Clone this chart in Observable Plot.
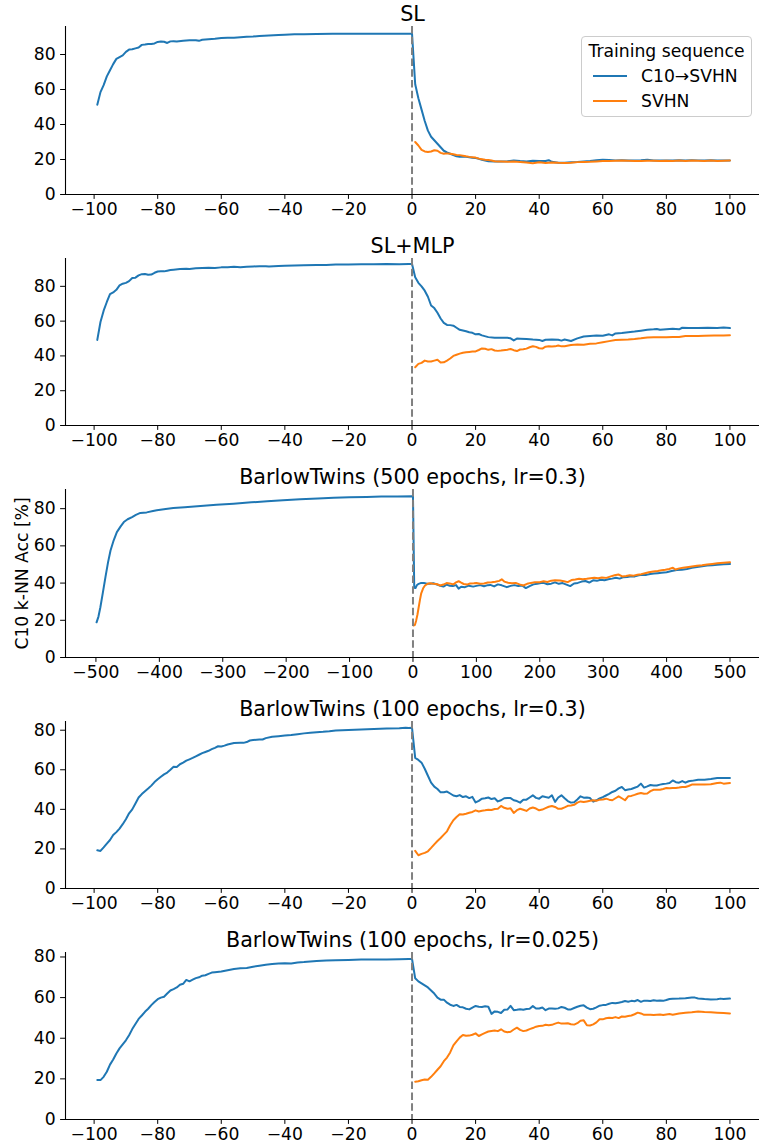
<!DOCTYPE html>
<html><head><meta charset="utf-8">
<script src="https://cdn.jsdelivr.net/npm/d3@7"></script>
<script src="https://cdn.jsdelivr.net/npm/@observablehq/plot@0.6"></script>
<style>
body{margin:0;background:#fff}
#chart{width:759px;position:relative}
#chart svg{display:block}
.panel{position:relative}
</style>
</head><body><div id="chart"></div>
<script>
// ---------- DATA ----------
const titles = ["SL", "SL+MLP", "BarlowTwins (500 epochs, lr=0.3)", "BarlowTwins (100 epochs, lr=0.3)", "BarlowTwins (100 epochs, lr=0.025)"];
const seriesNames = ["C10→SVHN", "SVHN"];
const yLabel = "C10 k-NN Acc [%]";
const legendTitle = "Training sequence";
const xTicks100 = [-100,-80,-60,-40,-20,0,20,40,60,80,100];
const xTicks500 = [-500,-400,-300,-200,-100,0,100,200,300,400,500];
const yTicks = [0,20,40,60,80];

// SL
const slC10 = [[-99,51.3],[-98,58.5],[-97,62.5],[-96,67.5],[-95,71],[-94,74.5],[-93,77.5],[-92,78.5],[-91,79.5],[-90,81.5],[-89,82.8],[-88,83],[-87,83.5],[-86,84],[-85,85.5],[-84,85.7],[-83,86],[-82,86],[-81,86.3],[-80,87.2],[-79,87.4],[-78,87.3],[-77,86.6],[-76,87.5],[-75,87.6],[-74,87.4],[-72,87.8],[-70,88.1],[-68,88.2],[-67,87.8],[-66,88.4],[-64,88.7],[-62,89],[-60,89.4],[-58,89.6],[-56,89.6],[-54,89.9],[-52,90.2],[-50,90.3],[-48,90.6],[-45,90.8],[-42,91.1],[-40,91.3],[-37,91.6],[-34,91.6],[-30,91.7],[-25,91.8],[-20,91.9],[-15,91.8],[-10,91.9],[-5,91.9],[-1,91.9],[0,91.9],
[1,63],[2,55],[3,48.5],[4,42],[5,36.5],[6,33],[7,31],[8,29],[9,27],[10,25],[11,24],[12,23.3],[13,22.5],[14,21.8],[15,21.5],[16,21.6],[17,21.5],[18,21.3],[19,21],[20,20.8],[21,20.4],[22,19.8],[23,19.4],[24,19],[26,18.9],[28,18.9],[30,19],[32,19.4],[34,19.1],[36,18.9],[38,19.3],[40,19.2],[42,19.1],[43,19.6],[44,18.7],[46,18.2],[48,18.1],[50,18.4],[52,18.6],[54,18.9],[56,19.2],[58,19.6],[60,19.8],[62,19.7],[64,19.5],[66,19.6],[68,19.4],[70,19.5],[72,19.6],[74,19.8],[76,19.4],[78,19.5],[80,19.5],[82,19.4],[84,19.6],[86,19.4],[88,19.6],[90,19.5],[92,19.4],[94,19.6],[96,19.4],[98,19.5],[100,19.4]];
const slSVHN = [[1,30],[2,28],[3,25.5],[4,24.6],[5,24.3],[6,24.6],[7,25.3],[8,25],[9,23.8],[10,23.3],[11,23.5],[12,23.3],[13,23],[14,22.6],[15,22.5],[16,22.2],[17,21.8],[18,21.5],[19,21.3],[20,21.1],[21,20.5],[22,20.2],[23,19.9],[24,19.7],[25,19.4],[26,19],[27,18.9],[28,18.9],[30,18.7],[32,18.8],[34,18.6],[36,18.3],[38,17.9],[40,18.4],[42,18],[44,18.3],[46,18.1],[48,18],[50,18.2],[52,18.5],[54,18.6],[56,18.7],[58,18.9],[60,19.1],[62,19.2],[64,19.3],[66,19.4],[68,19.3],[70,19.2],[72,19.1],[74,19.3],[76,19.3],[78,19.2],[80,19.3],[82,19.2],[84,19.4],[86,19.2],[88,19.4],[90,19.3],[92,19.2],[94,19.4],[96,19.2],[98,19.3],[100,19.4]];

// SL+MLP
const mlpC10 = [[-99,49.2],[-98,59.5],[-97,66],[-96,71],[-95,75.5],[-94,76.5],[-93,78],[-92,80.5],[-91,81.5],[-90,82],[-89,83],[-88,84.8],[-87,85],[-86,86.3],[-85,87],[-84,87.1],[-83,86.7],[-82,86.8],[-81,87.8],[-80,88.5],[-79,88.6],[-78,88.6],[-77,89],[-76,89.4],[-75,89.6],[-73,89.9],[-71,90.1],[-70,90],[-68,90.4],[-66,90.6],[-64,90.7],[-62,90.6],[-60,90.9],[-58,91],[-56,91.2],[-54,91],[-52,91.2],[-50,91.4],[-48,91.6],[-46,91.6],[-45,91.4],[-42,91.7],[-40,91.8],[-37,92],[-34,92.1],[-30,92.3],[-27,92.3],[-24,92.5],[-20,92.6],[-16,92.7],[-12,92.7],[-8,92.9],[-4,92.7],[-1,92.8],[0,92.8],
[1,85.2],[2,82],[3,80],[4,77.5],[5,74],[6,69],[7,67.5],[8,64.8],[9,61.5],[10,59],[11,57.8],[12,57.7],[13,57.4],[14,56.2],[15,55],[16,54.6],[17,54.2],[18,53.6],[19,53.3],[20,52.4],[21,52.6],[22,51.8],[24,50.8],[26,50.4],[28,50.4],[30,50.4],[31,50.1],[32,48.9],[33,50],[34,49.9],[36,49.7],[38,49.4],[40,49.2],[41,48.6],[42,49.3],[44,49.4],[46,49.3],[47,48.8],[48,49.4],[50,48.6],[52,50.1],[54,51.2],[56,51.5],[58,51.7],[60,51.6],[62,52.4],[63,51.8],[64,52.9],[66,53.2],[68,53.6],[70,54],[72,54.5],[74,55],[76,55.3],[77,55.5],[78,55],[80,55.3],[82,55.6],[84,55.3],[85,56.2],[87,56.1],[90,56.1],[93,56.2],[96,56.1],[98,56.4],[100,56]];
const mlpSVHN = [[1,33.5],[2,35.4],[3,36],[4,37.3],[5,36.8],[6,36.8],[7,37.3],[8,37.8],[9,36.2],[10,36.3],[11,37.3],[12,38.5],[13,40],[14,40.7],[15,41.3],[16,41.8],[17,42.1],[18,42.3],[19,42.5],[20,42.6],[21,43.4],[22,44.3],[23,44.1],[24,43.5],[25,43.9],[26,43.1],[27,42.9],[28,43.1],[30,43.6],[31,44],[32,43.3],[33,42.8],[34,43.7],[35,43.8],[36,44.2],[37,45],[38,45.6],[39,45.2],[40,44.4],[41,44.2],[42,45.3],[43,45.5],[44,45.4],[45,45.5],[46,46],[47,45.5],[48,45.6],[50,46.3],[52,46.6],[54,46.4],[56,47],[58,47.2],[60,47.9],[62,48.5],[64,49.1],[66,49.3],[68,49.4],[70,49.7],[72,50.1],[74,50.6],[76,50.7],[78,50.7],[80,50.7],[82,50.9],[84,50.9],[86,51.4],[88,51.5],[90,51.5],[92,51.6],[95,51.7],[98,51.8],[100,51.9]];

// BarlowTwins 500 epochs lr 0.3
const bt500C10 = [[-499,18.9],[-496,22],[-493,27],[-489,35],[-485,43.2],[-481,51],[-477,57.5],[-472,63],[-467,67.4],[-461,70.5],[-456,72.8],[-450,74.3],[-443,75.5],[-437,76.7],[-430,77.7],[-420,78],[-410,78.7],[-404,79.1],[-390,79.8],[-378,80.3],[-360,80.8],[-335,81.4],[-310,82.1],[-283,82.7],[-255,83.4],[-230,84],[-205,84.5],[-178,85],[-150,85.4],[-125,85.8],[-100,86.1],[-73,86.3],[-50,86.5],[-25,86.6],[0,86.7],
[2,37.5],[4,37.3],[6,38.8],[9,39.6],[13,40.1],[17,40.1],[22,39.6],[27,39.6],[32,39.9],[38,39.2],[43,38.6],[48,38.1],[53,39.2],[58,38.6],[63,38.4],[68,38.9],[72,37],[76,38],[82,37.8],[88,38.6],[95,38.1],[100,38.5],[106,38.9],[112,38.3],[118,38.9],[122,39],[128,38.2],[134,39.3],[140,38.8],[148,37.8],[154,38.5],[160,38.9],[166,38.4],[172,38.7],[178,37.3],[184,38.4],[190,39.3],[196,39.6],[202,40],[206,40.1],[212,39.4],[218,39.7],[224,40.4],[230,39.6],[236,40],[242,39.2],[248,38.4],[254,39.8],[260,40.1],[266,40.8],[272,41.1],[278,40.3],[284,41.5],[290,41.2],[296,41.8],[302,41.5],[308,42.1],[314,42.4],[320,42.9],[326,42.4],[332,43.2],[338,43.3],[344,43.7],[350,43.6],[356,44.2],[362,44.5],[368,44.4],[374,44.9],[380,45.1],[386,45.3],[392,45.5],[400,45.8],[408,46.5],[416,47],[424,47.2],[432,47.6],[440,48.2],[448,48.6],[456,49],[464,49.4],[472,49.6],[480,49.9],[490,50.1],[500,50.3]];
const bt500SVHN = [[1,17.2],[3,17.5],[5,19.8],[7,23],[9,27],[11,31],[13,34.5],[16,37.2],[19,38.7],[23,39.6],[27,39.9],[32,39.6],[37,39.5],[43,38.7],[48,39.2],[53,40],[58,39.8],[64,39.3],[68,40.4],[72,41],[76,40.2],[80,39.5],[85,39.2],[90,39.8],[96,39.9],[100,40],[106,39.6],[112,39.8],[118,40.3],[124,40.4],[130,40.7],[136,41.2],[140,42],[144,40.8],[150,40.2],[156,39.9],[162,40.1],[168,39.3],[174,38.7],[180,39.6],[186,40.1],[192,40.4],[200,40.5],[206,41],[212,40.6],[218,41.3],[224,41.5],[232,41.4],[238,41],[244,40.5],[250,41.6],[256,41.9],[262,42.3],[268,42.1],[274,42.3],[280,42.6],[286,42.9],[292,42.6],[298,43],[305,42.8],[312,43.6],[318,44.2],[324,44.6],[330,43.6],[336,43.8],[342,44.2],[348,44],[354,44.5],[360,44.8],[366,45.3],[372,45.8],[379,46.2],[386,46.5],[392,46.9],[398,47.2],[404,47.6],[410,48.2],[414,47.3],[420,47.9],[426,48.2],[432,48.5],[440,48.9],[448,49.3],[456,49.6],[464,50],[472,50.3],[480,50.6],[490,50.9],[500,51.2]];

// BarlowTwins 100 epochs lr 0.3
const bt03C10 = [[-99,19.3],[-98,19],[-97,20.8],[-96,22.7],[-95,24.5],[-94,27],[-93,28.5],[-92,30.3],[-91,32.5],[-90,35],[-89,38],[-88,40],[-87,43],[-86,46],[-85,47.7],[-84,49.1],[-83,50.5],[-82,52],[-81,53.8],[-80,55.2],[-79,56.5],[-78,57.7],[-77,58.6],[-76,60],[-75,61.5],[-74,61.4],[-73,62.8],[-72,63.6],[-71,64.6],[-70,65.3],[-69,66],[-68,66.8],[-67,67.6],[-66,68.4],[-65,69],[-64,69.6],[-63,70.4],[-62,71.1],[-61,71.9],[-60,71.8],[-59,72.2],[-58,72.8],[-57,73.2],[-56,73.5],[-54,73.6],[-53,73.6],[-52,74],[-51,74.8],[-50,75],[-48,75.3],[-47,75.3],[-46,76],[-44,76.7],[-42,77],[-40,77.3],[-38,77.6],[-36,78],[-34,78.4],[-32,78.7],[-30,79],[-28,79.2],[-26,79.5],[-24,79.9],[-20,80.1],[-16,80.4],[-12,80.6],[-8,80.8],[-4,81],[-2,81.3],[-1,81.1],[0,81.2],
[1,66],[2,65],[3,63.6],[4,60.5],[5,57],[6,53.5],[7,51.5],[8,50.3],[9,48.6],[10,48.6],[11,49],[12,48],[13,47],[14,46.6],[15,47.2],[16,46.2],[17,46.6],[18,45.7],[19,46.3],[20,43.5],[21,44.3],[22,45.4],[23,45.6],[24,46],[25,45.2],[26,45.6],[27,44],[28,44.6],[29,45.6],[30,45.7],[31,45.7],[32,44.6],[33,44.2],[34,43.4],[35,44.8],[36,44.9],[37,46],[38,47.1],[39,45.8],[40,45.4],[41,46.6],[42,46.2],[43,45.9],[44,47.1],[45,43.8],[46,46],[47,47.1],[48,45.6],[49,44.2],[50,43.4],[51,43.6],[52,45],[53,46.6],[54,45.9],[55,46],[56,45.7],[57,43.9],[58,44.6],[59,45.5],[60,46.2],[61,47],[62,47.8],[63,48.8],[64,49.4],[65,50.6],[66,51.3],[67,49.7],[68,50],[69,50.3],[70,50.9],[71,51.5],[72,53],[73,51],[74,51.6],[75,52.3],[76,52.1],[77,52.1],[78,52.5],[79,52.8],[80,53],[81,53.3],[82,54.6],[83,53.7],[84,53.5],[85,54.3],[86,53.5],[87,54.2],[88,54.4],[90,55],[92,55],[94,55.3],[96,55.8],[98,55.8],[100,55.8]];
const bt03SVHN = [[1,19],[2,16.8],[3,17.5],[4,18],[5,18.8],[6,20.5],[7,22.3],[8,24],[9,25.5],[10,27.2],[11,28.9],[12,32],[13,34.5],[14,36.1],[15,37.5],[16,37.4],[17,37.8],[18,38.3],[19,38.7],[20,39.5],[21,38.9],[22,39.3],[23,39.5],[24,39.8],[25,39.7],[26,40.2],[27,40.3],[28,41.7],[29,40.8],[30,40.3],[31,40.5],[32,38.2],[33,39.6],[34,40.3],[35,39.8],[36,39.2],[37,40.4],[38,40.9],[39,40.4],[40,39.5],[41,39.9],[42,40.6],[43,41.3],[44,41.7],[45,41.2],[46,40.3],[47,40.3],[48,41],[49,41.8],[50,42],[51,42.3],[52,43.4],[53,44],[54,43.7],[55,44],[56,44.3],[57,44.6],[58,44.3],[59,44.9],[60,45],[61,45.4],[62,44.9],[63,44.6],[64,45.6],[65,46.6],[66,45.6],[67,44.6],[68,46.6],[69,46.8],[70,47.3],[71,47.9],[72,48.3],[73,47.9],[74,48],[75,49.2],[76,49.9],[77,49.9],[78,49.9],[79,50.3],[80,50.8],[81,50.7],[82,50.8],[83,50.8],[84,51],[85,51.3],[86,51.3],[87,51.8],[88,52.5],[90,52.5],[92,52.5],[94,52.7],[96,53.3],[97,53.5],[98,53],[100,53.3]];

// BarlowTwins 100 epochs lr 0.025
const bt025C10 = [[-99,19.4],[-98,19.4],[-97,21],[-96,23.5],[-95,27],[-94,29.5],[-93,32.5],[-92,35],[-91,37],[-90,39],[-89,41.5],[-88,44.5],[-87,47],[-86,49.5],[-85,51.2],[-84,53],[-83,54.5],[-82,56.3],[-81,57.8],[-80,59.2],[-79,60],[-78,60.4],[-77,62],[-76,63.5],[-75,64.2],[-74,65],[-73,66.3],[-72,66.8],[-71,68.7],[-70,68],[-69,68.8],[-68,69.6],[-67,70],[-66,70.8],[-65,71],[-64,71.7],[-63,72.3],[-62,72.5],[-60,72.8],[-58,73.5],[-56,74.1],[-54,74.4],[-52,74.6],[-50,75.2],[-48,75.7],[-46,76.2],[-44,76.5],[-42,76.8],[-40,76.9],[-38,76.8],[-36,77.3],[-34,77.5],[-32,77.8],[-30,78],[-27,78.3],[-24,78.4],[-20,78.5],[-16,78.7],[-12,78.8],[-8,78.7],[-4,78.9],[-1,79],[0,79],
[1,69.5],[2,68],[3,67],[4,66],[5,65],[6,63.5],[7,62],[8,60],[9,59],[10,59],[11,57.5],[12,56.5],[13,55.9],[14,56.4],[15,55.4],[16,55.2],[17,54.5],[18,54.2],[19,55.1],[20,55.9],[21,55.5],[22,55.4],[23,55.7],[24,55.5],[25,52],[26,53.2],[27,53],[28,52.4],[29,54],[30,54.1],[31,55.9],[32,53.8],[33,54],[34,54.3],[35,54],[36,54.4],[37,54.5],[38,55.8],[39,54.6],[40,54.6],[41,55.1],[42,53.8],[43,54.6],[44,54.6],[45,54.5],[46,54.7],[47,55.4],[48,55],[49,54.2],[50,54.2],[51,54.9],[52,55.5],[53,56],[54,56.2],[55,55.1],[56,54.3],[57,54.5],[58,55.2],[59,56],[60,56.3],[61,56.4],[62,57],[63,57.4],[64,57.2],[65,57.5],[66,57.8],[67,58.3],[68,58],[69,58.4],[70,58.2],[71,58.8],[72,57.9],[73,58.5],[74,58.5],[75,58.3],[76,58.7],[77,58.4],[78,58.6],[79,58.4],[80,58.8],[81,59.3],[82,59.4],[84,59.5],[86,59.7],[88,60],[89,60],[90,59.6],[92,59.3],[94,59.1],[96,59.2],[97,59.5],[98,59.3],[100,59.5]];
const bt025SVHN = [[1,18.6],[2,18.8],[3,19.3],[4,19.7],[5,19.6],[6,21],[7,22.7],[8,24.5],[9,26.2],[10,28.7],[11,30.5],[12,33],[13,36.5],[14,38.5],[15,40.3],[16,41.6],[17,41.2],[18,41.3],[19,41.7],[20,42.4],[21,41.1],[22,41.9],[23,42.6],[24,43.3],[25,43.6],[26,43.8],[27,43.5],[28,44.4],[29,43.3],[30,42.9],[31,43.2],[32,44.3],[33,45.2],[34,44.1],[35,43.5],[36,43.8],[37,44.5],[38,45],[39,45.7],[40,46],[41,46.1],[42,46.6],[43,46.4],[44,46.6],[45,47.2],[46,47.7],[47,47.2],[48,47.3],[49,47.4],[50,46.9],[51,46.7],[52,47.4],[53,48.6],[54,48.8],[55,46.4],[56,46.3],[57,46.8],[58,47.8],[59,49.3],[60,49.3],[61,49.8],[62,50.1],[63,50],[64,50.4],[65,49.9],[66,50.7],[67,50.6],[68,50.9],[69,51.2],[70,51.8],[71,52.6],[72,52.2],[73,51.5],[74,51.5],[75,51.6],[76,51.4],[77,51.6],[78,51.7],[79,51.4],[80,51.7],[81,51.9],[82,51.6],[84,52.2],[86,52.6],[88,52.8],[90,53.1],[92,52.9],[94,52.8],[96,52.6],[98,52.4],[100,52.2]];

// ---------- LAYOUT ----------
const colors = ["#1f77b4", "#ff7f0e"];
const FONT = "DejaVu Sans";
const FS = 17.2;     // tick / legend / label font size (px)
const TFS = 20.7;    // title font size (px)
const panels = [
  {title: titles[0], c10: slC10, svhn: slSVHN, xd: [-109, 109.3], xt: xTicks100, yTop: 96, h: 231, mt: 26, mb: 37, legend: true},
  {title: titles[1], c10: mlpC10, svhn: mlpSVHN, xd: [-109, 109.3], xt: xTicks100, yTop: 96, h: 232, mt: 27, mb: 38},
  {title: titles[2], c10: bt500C10, svhn: bt500SVHN, xd: [-548, 546.5], xt: xTicks500, yTop: 90.3, h: 231, mt: 26, mb: 37, ylabel: true},
  {title: titles[3], c10: bt03C10, svhn: bt03SVHN, xd: [-109, 109.3], xt: xTicks100, yTop: 84.4, h: 232, mt: 27, mb: 38},
  {title: titles[4], c10: bt025C10, svhn: bt025SVHN, xd: [-109, 109.3], xt: xTicks100, yTop: 82.2, h: 221, mt: 26, mb: 28}
];
const fmt = d => d < 0 ? "\u2212" + Math.abs(d) : String(d);
const toRows = arr => arr.map(([e, v]) => ({epoch: e, acc: v}));

const root = document.getElementById("chart");
for (const p of panels) {
  const marks = [
    Plot.axisY({ticks: yTicks, tickSize: 4.9, tickPadding: 5, tickFormat: fmt, label: null, fontSize: FS}),
    Plot.axisX({ticks: p.xt, tickSize: 4.9, tickPadding: 3, tickFormat: fmt, label: null, fontSize: FS}),
    Plot.ruleY([0], {stroke: "#000", strokeWidth: 1.1}),
    Plot.ruleX([p.xd[0]], {stroke: "#000", strokeWidth: 1.1}),
    Plot.line(toRows(p.c10), {x: "epoch", y: "acc", stroke: colors[0], strokeWidth: 2}),
    Plot.line(toRows(p.svhn), {x: "epoch", y: "acc", stroke: colors[1], strokeWidth: 2}),
    Plot.ruleX([0], {stroke: "#808080", strokeWidth: 2, strokeDasharray: "7.5,3.3"}),
    Plot.text([p.title], {frameAnchor: "top", textAnchor: "middle", lineAnchor: "bottom", dy: -6, fontSize: TFS, fill: "#000"})
  ];
  if (p.ylabel) marks.push(Plot.text([yLabel], {frameAnchor: "left", textAnchor: "middle", lineAnchor: "middle", rotate: -90, dx: -43, fontSize: FS, fill: "#000"}));
  const svg = Plot.plot({
    width: 759, height: p.h,
    marginLeft: 65, marginRight: 0, marginTop: p.mt, marginBottom: p.mb,
    style: {fontFamily: FONT, fontSize: FS + "px", color: "#000", background: "#fff", overflow: "visible"},
    x: {type: "linear", domain: p.xd},
    y: {type: "linear", domain: [0, p.yTop]},
    marks
  });
  const wrap = document.createElement("div");
  wrap.className = "panel";
  wrap.appendChild(svg);
  if (p.legend) {
    const lg = d3.create("svg").attr("width", 759).attr("height", p.h)
      .style("position", "absolute").style("left", "0px").style("top", "0px")
      .style("font-family", FONT).style("font-size", FS + "px");
    lg.append("rect").attr("x", 581.5).attr("y", 36.5).attr("width", 170).attr("height", 80).attr("rx", 3.5)
      .attr("fill", "#fff").attr("fill-opacity", 0.8).attr("stroke", "#cccccc").attr("stroke-width", 1);
    lg.append("text").attr("x", 666.5).attr("y", 57).attr("text-anchor", "middle").attr("fill", "#000").text(legendTitle);
    seriesNames.forEach((name, i) => {
      const y = 76 + i * 25;
      lg.append("line").attr("x1", 593).attr("x2", 627).attr("y1", y).attr("y2", y).attr("stroke", colors[i]).attr("stroke-width", 2);
      lg.append("text").attr("x", 641).attr("y", y + 6).attr("fill", "#000").text(name);
    });
    wrap.appendChild(lg.node());
  }
  root.appendChild(wrap);
}
</script>
</body></html>
